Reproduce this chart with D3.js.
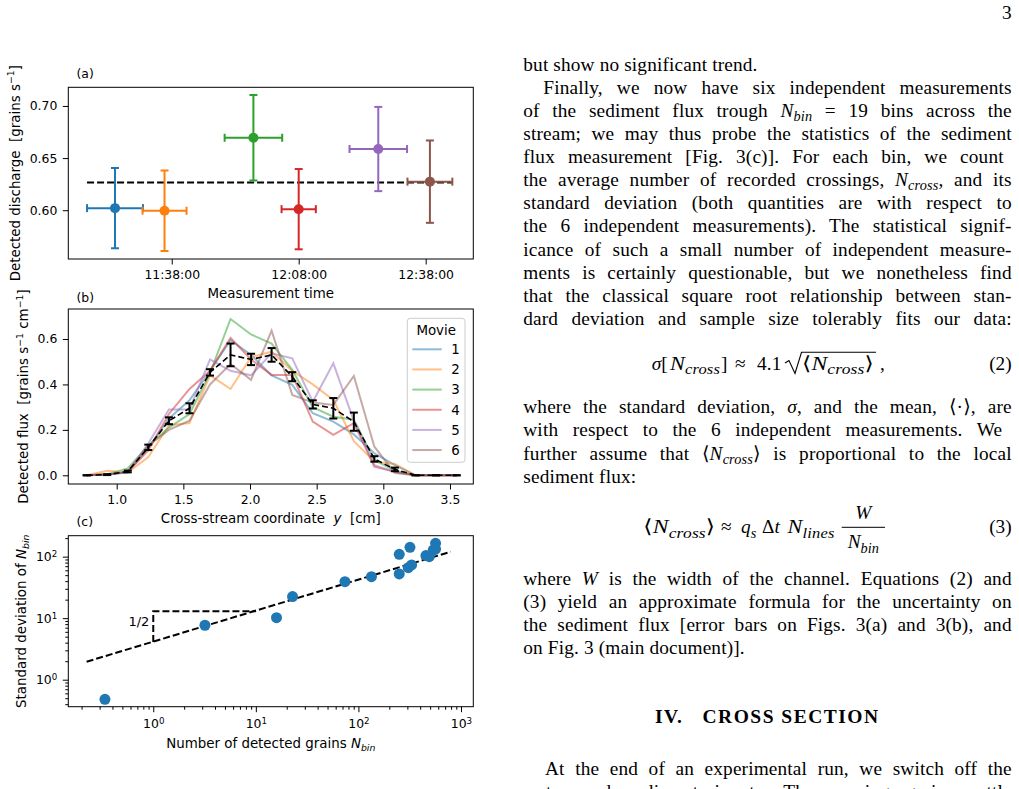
<!DOCTYPE html>
<html>
<head>
<meta charset="utf-8">
<script src="https://cdn.jsdelivr.net/npm/d3@7"></script>
<style>
  body { margin: 0; background: #fff; }
  svg { display: block; }
</style>
</head>
<body>
<svg id="svg" width="1019" height="789"></svg>
<script>
// ---------- data ----------

// (a) detected discharge per movie
const movieTimes = ["11:24:36", "11:36:18", "11:57:18", "12:08:00", "12:26:48", "12:39:00"];
const timeErrMin = [6.6, 5.2, 6.8, 4.05, 6.8, 5.3];
const discharge = [0.602, 0.5995, 0.6695, 0.601, 0.6587, 0.6274];
const dischargeErr = [0.0385, 0.0386, 0.041, 0.0385, 0.0404, 0.0395];
const meanDischarge = 0.6265;
const timeTicks = ["11:38:00", "12:08:00", "12:38:00"];
const dischargeTicks = [0.60, 0.65, 0.70];

// (b) flux profiles
const binCenters = [0.775, 0.929, 1.083, 1.237, 1.392, 1.546, 1.700, 1.854, 2.008, 2.162,
                    2.317, 2.471, 2.625, 2.779, 2.933, 3.087, 3.242, 3.396, 3.550];
const flux1 = [0, 0.003, 0.012, 0.12, 0.25, 0.33, 0.46, 0.595, 0.53, 0.44, 0.398, 0.273, 0.236, 0.18, 0.097, 0.045, 0, 0, 0];
const flux2 = [0, 0.02, 0.012, 0.08, 0.22, 0.23, 0.44, 0.38, 0.52, 0.544, 0.46, 0.40, 0.332, 0.15, 0.06, 0.05, 0, 0, 0];
const flux3 = [0, 0.005, 0.03, 0.13, 0.21, 0.27, 0.45, 0.688, 0.62, 0.58, 0.464, 0.30, 0.258, 0.245, 0.067, 0.02, 0, 0, 0];
const flux4 = [0, 0.003, 0.015, 0.11, 0.27, 0.38, 0.46, 0.605, 0.51, 0.442, 0.442, 0.236, 0.178, 0.23, 0.038, 0.015, 0, 0, 0];
const flux5 = [0, 0.003, 0.015, 0.14, 0.29, 0.29, 0.51, 0.46, 0.44, 0.537, 0.515, 0.324, 0.493, 0.24, 0.045, 0.015, 0, 0, 0];
const flux6 = [0, 0.003, 0.015, 0.13, 0.20, 0.24, 0.40, 0.49, 0.42, 0.637, 0.354, 0.32, 0.31, 0.437, 0.126, 0.01, 0, 0, 0];
const fluxMean = [0, 0.003, 0.017, 0.123, 0.24, 0.295, 0.453, 0.53, 0.51, 0.53, 0.434, 0.312, 0.295, 0.236, 0.072, 0.026, 0, 0, 0];
const fluxErr = [0, 0.002, 0.004, 0.012, 0.015, 0.022, 0.014, 0.05, 0.025, 0.03, 0.02, 0.018, 0.045, 0.04, 0.012, 0.008, 0, 0, 0];
const movieLabels = ["1", "2", "3", "4", "5", "6"];
const fluxXTicks = [1.0, 1.5, 2.0, 2.5, 3.0, 3.5];
const fluxYTicks = [0.0, 0.2, 0.4, 0.6];

// (c) standard deviation vs number of grains
const nBin = [0.338, 3.19, 15.9, 22.8, 73.9, 134, 250, 250, 318, 306, 330, 455, 490, 536, 565, 565];
const sdBin = [0.48, 7.67, 10.2, 22.4, 39.2, 47.3, 52.3, 109, 142, 66.2, 73.3, 104, 100, 128, 165, 133];
const fitN = [0.224, 792];
const fitSd = [1.96, 120];
const slopeN = [1, 1, 10];
const slopeSd = [4.1, 13, 13];
const logTicks = [1, 10, 100, 1000];

// ---------- setup ----------
const svg = d3.select("#svg");
svg.append("rect").attr("width", 1019).attr("height", 789).attr("fill", "#fff");

const SANS = "'DejaVu Sans', sans-serif";
const SERIF = "'Liberation Serif', 'DejaVu Serif', 'DejaVu Sans', serif";
const tab = ["#1f77b4", "#ff7f0e", "#2ca02c", "#d62728", "#9467bd", "#8c564b"];
const left = 68.3, right = 473.3;
const tickFs = 12.4, labFs = 13.4;

// text with {i:..} italic, {s:..} subscript, {S:..} superscript
function rich(text, markup, size, subScale) {
  const re = /\{([isS]):([^}]*)\}/g;
  const sc = subScale || 0.7;
  let last = 0, m, shift = 0;
  const add = (str, kind) => {
    if (!str) return;
    let target = 0, fs = size, style = "normal";
    if (kind === "i") style = "italic";
    if (kind === "s") { target = size * 0.22; fs = size * sc; style = "italic"; }
    if (kind === "S") { target = -size * 0.42; fs = size * sc; }
    text.append("tspan").attr("dy", target - shift).attr("font-size", fs)
      .attr("font-style", style).text(str);
    shift = target;
  };
  while ((m = re.exec(markup)) !== null) {
    add(markup.slice(last, m.index), "n");
    add(m[2], m[1]);
    last = re.lastIndex;
  }
  add(markup.slice(last), "n");
  return text;
}

function styleAxis(g) {
  g.select(".domain").remove();
  g.selectAll(".tick line").attr("stroke", "#000").attr("stroke-width", 1);
  g.selectAll(".tick text").attr("fill", "#000").attr("font-size", tickFs).attr("font-family", SANS);
}

function frame(top, bottom) {
  svg.append("rect").attr("x", left).attr("y", top).attr("width", right - left)
    .attr("height", bottom - top).attr("fill", "none").attr("stroke", "#000").attr("stroke-width", 1);
}

function ylabel(x, y, markup) {
  const t = svg.append("text").attr("transform", `translate(${x},${y}) rotate(-90)`)
    .attr("text-anchor", "middle").attr("font-family", SANS).attr("font-size", labFs)
    .style("white-space", "pre");
  rich(t, markup, labFs);
}

function xlabel(y, markup) {
  const t = svg.append("text").attr("x", (left + right) / 2).attr("y", y)
    .attr("text-anchor", "middle").attr("font-family", SANS).attr("font-size", labFs)
    .style("white-space", "pre");
  rich(t, markup, labFs);
}

function panelTag(y, s) {
  svg.append("text").attr("x", 76.5).attr("y", y).attr("font-family", SANS)
    .attr("font-size", tickFs).text(s);
}

// ---------- (a) ----------
const aTop = 87.3, aBot = 259;
const parseT = d3.timeParse("%H:%M:%S");
const xA = d3.scaleTime([parseT("11:13:34"), parseT("12:49:15")], [left, right]);
const yA = d3.scaleLinear([0.5532, 0.7179], [aBot, aTop]);

svg.append("g").attr("transform", `translate(0,${aBot})`)
  .call(d3.axisBottom(xA).tickValues(timeTicks.map(parseT))
    .tickFormat(d3.timeFormat("%H:%M:%S")).tickSize(5.5).tickPadding(5.5))
  .call(styleAxis);
svg.append("g").attr("transform", `translate(${left},0)`)
  .call(d3.axisLeft(yA).tickValues(dischargeTicks).tickFormat(d3.format(".2f"))
    .tickSize(5.5).tickPadding(5.5))
  .call(styleAxis);

const ptsA = movieTimes.map((s, i) => {
  const t = parseT(s);
  return {
    t, t0: new Date(t.getTime() - timeErrMin[i] * 60000), t1: new Date(t.getTime() + timeErrMin[i] * 60000),
    y: discharge[i], e: dischargeErr[i], c: tab[i]
  };
});

svg.append("line")
  .attr("x1", xA(d3.min(ptsA, d => d.t0))).attr("x2", xA(d3.max(ptsA, d => d.t1)))
  .attr("y1", yA(meanDischarge)).attr("y2", yA(meanDischarge))
  .attr("stroke", "#000").attr("stroke-width", 2).attr("stroke-dasharray", "7,3");

const gA = svg.append("g").selectAll("g").data(ptsA).join("g")
  .attr("stroke", d => d.c).attr("fill", d => d.c).attr("stroke-width", 2);
gA.append("line").attr("x1", d => xA(d.t0)).attr("x2", d => xA(d.t1))
  .attr("y1", d => yA(d.y)).attr("y2", d => yA(d.y));
gA.append("line").attr("x1", d => xA(d.t)).attr("x2", d => xA(d.t))
  .attr("y1", d => yA(d.y - d.e)).attr("y2", d => yA(d.y + d.e));
gA.each(function (d) {
  const g = d3.select(this);
  [d.t0, d.t1].forEach(t => g.append("line").attr("x1", xA(t)).attr("x2", xA(t))
    .attr("y1", yA(d.y) - 4).attr("y2", yA(d.y) + 4));
  [d.y - d.e, d.y + d.e].forEach(v => g.append("line").attr("x1", xA(d.t) - 4).attr("x2", xA(d.t) + 4)
    .attr("y1", yA(v)).attr("y2", yA(v)));
});
gA.append("circle").attr("cx", d => xA(d.t)).attr("cy", d => yA(d.y)).attr("r", 5).attr("stroke", "none");

frame(aTop, aBot);
panelTag(77.7, "(a)");
ylabel(19.5, (aTop + aBot) / 2, "Detected discharge  [grains s{S:−1}]");
xlabel(298, "Measurement time");

// ---------- (b) ----------
const bTop = 309, bBot = 484;
const xB = d3.scaleLinear([0.637, 3.675], [left, right]);
const yB = d3.scaleLinear([-0.0383, 0.732], [bBot, bTop]);

svg.append("g").attr("transform", `translate(0,${bBot})`)
  .call(d3.axisBottom(xB).tickValues(fluxXTicks).tickFormat(d3.format(".1f")).tickSize(5.5).tickPadding(5.5))
  .call(styleAxis);
svg.append("g").attr("transform", `translate(${left},0)`)
  .call(d3.axisLeft(yB).tickValues(fluxYTicks).tickFormat(d3.format(".1f")).tickSize(5.5).tickPadding(5.5))
  .call(styleAxis);

const movies = [flux1, flux2, flux3, flux4, flux5, flux6];
const lineB = d3.line().x(d => xB(d[0])).y(d => yB(d[1]));
svg.append("g").selectAll("path").data(movies).join("path")
  .attr("d", d => lineB(d3.zip(binCenters, d)))
  .attr("fill", "none").attr("stroke", (d, i) => tab[i]).attr("stroke-width", 2)
  .attr("stroke-opacity", 0.5);

svg.append("path").attr("d", lineB(d3.zip(binCenters, fluxMean)))
  .attr("fill", "none").attr("stroke", "#000").attr("stroke-width", 1.6).attr("stroke-dasharray", "6,3");
const eb = svg.append("g").attr("stroke", "#000").attr("stroke-width", 2);
binCenters.forEach((x, i) => {
  const cx = xB(x), lo = yB(fluxMean[i] - fluxErr[i]), hi = yB(fluxMean[i] + fluxErr[i]);
  eb.append("line").attr("x1", cx).attr("x2", cx).attr("y1", lo).attr("y2", hi);
  eb.append("line").attr("x1", cx - 4).attr("x2", cx + 4).attr("y1", lo).attr("y2", lo);
  eb.append("line").attr("x1", cx - 4).attr("x2", cx + 4).attr("y1", hi).attr("y2", hi);
});

// legend
const lg = svg.append("g");
lg.append("rect").attr("x", 407.3).attr("y", 318.3).attr("width", 57.7).attr("height", 144)
  .attr("rx", 3).attr("fill", "#fff").attr("fill-opacity", 0.8).attr("stroke", "#ccc");
lg.append("text").attr("x", 436.2).attr("y", 335).attr("text-anchor", "middle")
  .attr("font-family", SANS).attr("font-size", labFs).text("Movie");
movieLabels.forEach((lab, i) => {
  const y = 349.3 + i * 20.15;
  lg.append("line").attr("x1", 412.3).attr("x2", 441.7).attr("y1", y).attr("y2", y)
    .attr("stroke", tab[i]).attr("stroke-width", 2).attr("stroke-opacity", 0.5);
  lg.append("text").attr("x", 451.3).attr("y", y + 4.8).attr("font-family", SANS)
    .attr("font-size", labFs).text(lab);
});

frame(bTop, bBot);
panelTag(301.7, "(b)");
ylabel(28.3, (bTop + bBot) / 2, "Detected flux  [grains s{S:−1} cm{S:−1}]");
xlabel(522.5, "Cross-stream coordinate  {i:y}  [cm]");

// ---------- (c) ----------
const cTop = 535.7, cBot = 706.7;
const xC = d3.scaleLog([0.1485, 1318], [left, right]);
const yC = d3.scaleLog([0.364, 219], [cBot, cTop]);

function logLabels(g) {
  g.selectAll(".tick text").each(function (d) {
    const t = d3.select(this).text("10");
    t.append("tspan").attr("dy", "-0.45em").attr("font-size", tickFs * 0.7).text(Math.round(Math.log10(d)));
  });
}
const minorX = xC.ticks().filter(v => !logTicks.includes(v));
const minorY = yC.ticks().filter(v => !logTicks.includes(v));

svg.append("g").attr("transform", `translate(0,${cBot})`)
  .call(d3.axisBottom(xC).tickValues(minorX).tickFormat("").tickSize(3))
  .call(styleAxis);
svg.append("g").attr("transform", `translate(${left},0)`)
  .call(d3.axisLeft(yC).tickValues(minorY).tickFormat("").tickSize(3))
  .call(styleAxis);
svg.append("g").attr("transform", `translate(0,${cBot})`)
  .call(d3.axisBottom(xC).tickValues(logTicks).tickFormat(d => d).tickSize(5.5).tickPadding(7))
  .call(styleAxis).call(logLabels);
svg.append("g").attr("transform", `translate(${left},0)`)
  .call(d3.axisLeft(yC).tickValues(logTicks.filter(v => v < 219)).tickFormat(d => d).tickSize(5.5).tickPadding(5.5))
  .call(styleAxis).call(logLabels);

const lineC = d3.line().x(d => xC(d[0])).y(d => yC(d[1]));
svg.append("path").attr("d", lineC(d3.zip(fitN, fitSd)))
  .attr("fill", "none").attr("stroke", "#000").attr("stroke-width", 2).attr("stroke-dasharray", "7,3");
svg.append("path").attr("d", lineC(d3.zip(slopeN, slopeSd)))
  .attr("fill", "none").attr("stroke", "#000").attr("stroke-width", 2).attr("stroke-dasharray", "7,3");
svg.append("text").attr("x", 149.3).attr("y", 626).attr("text-anchor", "end")
  .attr("font-family", SANS).attr("font-size", 13).text("1/2");

svg.append("g").selectAll("circle").data(d3.zip(nBin, sdBin)).join("circle")
  .attr("cx", d => xC(d[0])).attr("cy", d => yC(d[1])).attr("r", 5.5).attr("fill", tab[0]);

frame(cTop, cBot);
panelTag(525.5, "(c)");
ylabel(26, (cTop + cBot) / 2, "Standard deviation of {i:N}{s:bin}");
xlabel(748.3, "Number of detected grains {i:N}{s:bin}");

// ---------- right column text ----------
const bodyFs = 19.3;
const colL = 523.3, colR = 1011.7, lead = 23.1;

function textLine(x, y, markup, justify, len) {
  const t = svg.append("text").attr("x", x).attr("y", y).attr("font-family", SERIF)
    .attr("font-size", bodyFs).attr("fill", "#000").style("letter-spacing", "0.15px");
  rich(t, markup, bodyFs, 0.74);
  if (justify) {
    const w = t.node().getComputedTextLength();
    const n = (t.text().match(/ /g) || []).length;
    if (n) t.style("word-spacing", ((colR - x - w) / n) + "px");
  }
  if (len) t.attr("textLength", len).attr("lengthAdjust", "spacingAndGlyphs");
  return t;
}

const block1 = [
  "but show no significant trend.",
  "Finally, we now have six independent measurements",
  "of the sediment flux trough {i:N}{s:bin} = 19 bins across the",
  "stream; we may thus probe the statistics of the sediment",
  "flux measurement [Fig. 3(c)].  For each bin, we count",
  "the average number of recorded crossings, {i:N}{s:cross}, and its",
  "standard deviation (both quantities are with respect to",
  "the 6 independent measurements). The statistical signif-",
  "icance of such a small number of independent measure-",
  "ments is certainly questionable, but we nonetheless find",
  "that the classical square root relationship between stan-",
  "dard deviation and sample size tolerably fits our data:"
];
block1.forEach((s, i) => textLine(i === 1 ? colL + 20 : colL, 70.7 + i * lead, s, i > 0));

const block2 = [
  "where the standard deviation, {i:σ}, and the mean, ⟨·⟩, are",
  "with respect to the 6 independent measurements.  We",
  "further assume that ⟨{i:N}{s:cross}⟩ is proportional to the local",
  "sediment flux:"
];
block2.forEach((s, i) => textLine(colL, 413.3 + i * lead, s, i < block2.length - 1));

const block3 = [
  "where {i:W} is the width of the channel. Equations (2) and",
  "(3) yield an approximate formula for the uncertainty on",
  "the sediment flux [error bars on Figs. 3(a) and 3(b), and",
  "on Fig. 3 (main document)]."
];
block3.forEach((s, i) => textLine(colL, 585 + i * lead, s, i < block3.length - 1));

const block4 = [
  "At the end of an experimental run, we switch off the",
  "water and sediment inputs. The moving grains settle"
];
block4.forEach((s, i) => textLine(i === 0 ? colL + 21.7 : colL, 775 + i * lead, s, true));

// equation (2)
textLine(651.7, 370, "{i:σ}[", false);
textLine(670, 370, "{i:N}{s:cross}", false, 50);
textLine(721, 370, "]", false);
textLine(735, 370, "≈", false);
textLine(757, 370, "4.1", false);
svg.append("path").attr("d", "M785,363 L789,360.5 L795,373.5 L801.5,352.3 L876,352.3")
  .attr("fill", "none").attr("stroke", "#000").attr("stroke-width", 1.1);
textLine(802, 370, "⟨{i:N}{s:cross}⟩", false, 72);
textLine(880, 370, ",", false);
svg.append("text").attr("x", colR).attr("y", 370).attr("text-anchor", "end")
  .attr("font-family", SERIF).attr("font-size", bodyFs).text("(2)");

// equation (3)
textLine(643.3, 533.3, "⟨{i:N}{s:cross}⟩", false, 72);
textLine(721, 533.3, "≈", false);
textLine(741, 533.3, "{i:q}{s:s}", false);
textLine(762, 533.3, "Δ{i:t}", false);
textLine(787.5, 533.3, "{i:N}{s:lines}", false, 47);
svg.append("text").attr("x", 863.3).attr("y", 519.3).attr("text-anchor", "middle")
  .attr("font-family", SERIF).attr("font-size", bodyFs).attr("font-style", "italic").text("W");
svg.append("line").attr("x1", 841.7).attr("x2", 885).attr("y1", 527.3).attr("y2", 527.3)
  .attr("stroke", "#000").attr("stroke-width", 1);
const nb = svg.append("text").attr("x", 863.3).attr("y", 548.3).attr("text-anchor", "middle")
  .attr("font-family", SERIF).attr("font-size", bodyFs);
rich(nb, "{i:N}{s:bin}", bodyFs, 0.74);
svg.append("text").attr("x", colR).attr("y", 533.3).attr("text-anchor", "end")
  .attr("font-family", SERIF).attr("font-size", bodyFs).text("(3)");

// section heading and page number
svg.append("text").attr("x", 655).attr("y", 723.3)
  .attr("font-family", SERIF).attr("font-size", 19.5).attr("font-weight", "bold")
  .style("white-space", "pre").attr("textLength", 223).attr("lengthAdjust", "spacing")
  .text("IV.   CROSS SECTION");
svg.append("text").attr("x", colR).attr("y", 19).attr("text-anchor", "end")
  .attr("font-family", SERIF).attr("font-size", bodyFs).text("3");
</script>
</body>
</html>
